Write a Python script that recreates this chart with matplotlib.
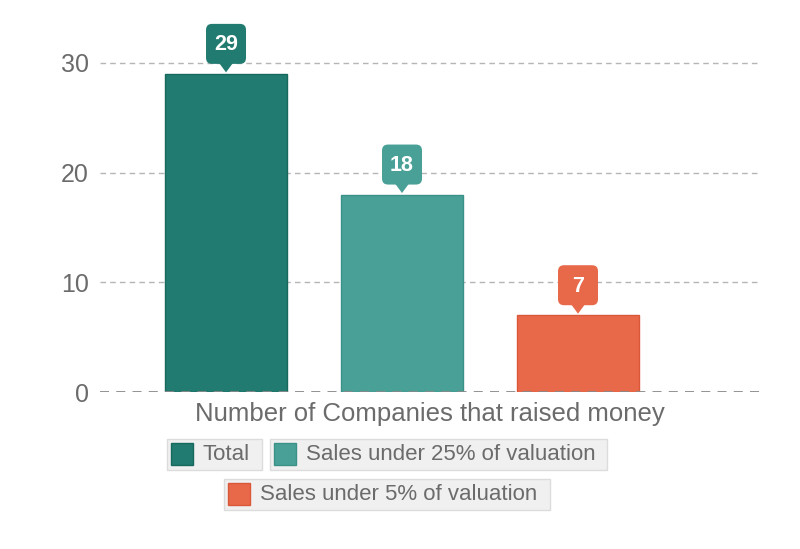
import matplotlib
matplotlib.use("Agg")
import matplotlib.pyplot as plt
import matplotlib.patches as mpatches
import matplotlib.transforms as mtransforms

categories = ["Total", "Sales under 25% of valuation", "Sales under 5% of valuation"]
values = [29, 18, 7]
colors = ["#227B70", "#49A097", "#E8694A"]
edge_colors = ["#17695E", "#3A9188", "#D9583A"]
yticks = [0, 10, 20, 30]
xlabel = "Number of Companies that raised money"

plt.rcParams['font.family'] = ['Liberation Sans', 'DejaVu Sans']
GRAY = "#6b6b6b"

fig = plt.figure(figsize=(8, 5.49), dpi=100)
W, H = 800, 549
ax = fig.add_axes([100 / W, (H - 392) / H, 660 / W, (392 - 30) / H])

xs = list(range(len(values)))
ax.bar(xs, values, width=0.693, color=colors, edgecolor=edge_colors, linewidth=1, zorder=3)
ax.set_xlim(-0.716, 3.034)
ax.set_ylim(0, 33)
ax.set_yticks(yticks)
ax.set_yticklabels([str(t) for t in yticks], fontsize=18, color=GRAY)
ax.tick_params(axis='y', length=0, pad=8)
ax.set_xticks([])
for s in ax.spines.values():
    s.set_visible(False)
for t in yticks[1:]:
    ax.axhline(t, color="#b5b5b5", lw=1, ls=(0, (4, 3)), zorder=1)
ax.axhline(0, color="#8a8a8a", lw=1.3, ls=(0, (5, 4)), zorder=4)

ax.text(0.5, -0.062, xlabel, transform=ax.transAxes, ha='center', va='center',
        fontsize=18.5, color=GRAY)

# callouts
fig.canvas.draw()
for x, v, c in zip(xs, values, colors):
    px, py = ax.transData.transform((x, v))
    tr = mtransforms.Affine2D().translate(px, py)
    box = mpatches.FancyBboxPatch((-20, 10), 40, 40,
                                  boxstyle="round,pad=0,rounding_size=6",
                                  facecolor=c, edgecolor='none', transform=tr, zorder=6)
    fig.add_artist(box)
    tri = mpatches.Polygon([(-7, 11), (7, 11), (0, 1.5)], closed=True,
                           facecolor=c, edgecolor='none', transform=tr, zorder=6)
    fig.add_artist(tri)
    fig.text(px / W, (py + 29) / H, str(v), ha='center', va='center',
             fontsize=15.5, fontweight='bold', color='white', zorder=7)

# legend (manual, per-item boxes)
renderer = fig.canvas.get_renderer()
rows = [[0, 1], [2]]
row_centers_y = [454, 494]
center_x = 387
sq = 22
box_h = 31
gap = 8
fs = 16
for row, cy in zip(rows, row_centers_y):
    widths = []
    for i in row:
        t = fig.text(0, 0, categories[i], fontsize=fs)
        w = t.get_window_extent(renderer).width
        t.remove()
        widths.append(4 + sq + 10 + w + 12)
    total = sum(widths) + gap * (len(row) - 1)
    x0 = center_x - total / 2
    for i, w in zip(row, widths):
        ypix = H - cy
        fig.add_artist(mpatches.Rectangle((x0 / W, (ypix - box_h / 2) / H), w / W, box_h / H,
                                          transform=fig.transFigure, facecolor="#f0f0f0",
                                          edgecolor="#dcdcdc", lw=1))
        fig.add_artist(mpatches.Rectangle(((x0 + 4) / W, (ypix - sq / 2) / H), sq / W, sq / H,
                                          transform=fig.transFigure, facecolor=colors[i],
                                          edgecolor=edge_colors[i], lw=1))
        fig.text((x0 + 4 + sq + 10) / W, (ypix - 1) / H, categories[i], fontsize=fs,
                 color=GRAY, va='center', ha='left')
        x0 += w + gap

fig.savefig("out.png", dpi=100)
